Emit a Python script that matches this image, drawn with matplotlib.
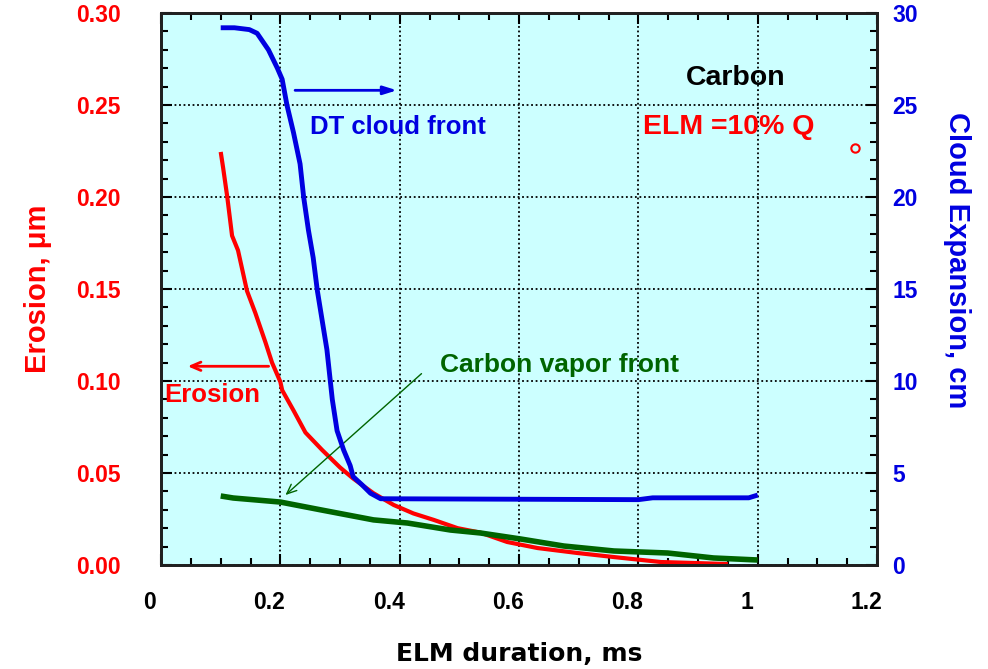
import matplotlib
matplotlib.use('Agg')
import matplotlib.pyplot as plt
import matplotlib.transforms as mtransforms
from matplotlib.ticker import MultipleLocator

# ---- data --------------------------------------------------------------
# erosion (um) vs ELM duration (ms), left axis
erosion_t = [0.10, 0.104, 0.111, 0.119, 0.129, 0.144, 0.158, 0.175, 0.186, 0.200,
             0.203, 0.222, 0.242, 0.270, 0.300, 0.322, 0.356, 0.390, 0.423, 0.457,
             0.497, 0.535, 0.580, 0.631, 0.698, 0.759, 0.838, 0.900, 0.950]
erosion_um = [0.2245, 0.216, 0.200, 0.179, 0.171, 0.149, 0.137, 0.121, 0.110, 0.0995,
              0.095, 0.084, 0.072, 0.0625, 0.053, 0.047, 0.039, 0.0326, 0.028, 0.0245,
              0.020, 0.0176, 0.0125, 0.0092, 0.0065, 0.0043, 0.0016, 0.001, 0.0005]

# DT cloud front position (cm), right axis
cloud_t = [0.10, 0.123, 0.148, 0.161, 0.180, 0.195, 0.203, 0.211, 0.222, 0.233,
           0.239, 0.247, 0.255, 0.262, 0.270, 0.278, 0.284, 0.287, 0.295, 0.306,
           0.317, 0.322, 0.337, 0.351, 0.368, 0.800, 0.824, 0.985, 1.000]
cloud_cm = [29.2, 29.2, 29.1, 28.9, 28.0, 27.0, 26.4, 25.0, 23.5, 21.8,
            20.0, 18.2, 16.7, 14.9, 13.3, 11.7, 9.9, 9.0, 7.3, 6.25,
            5.4, 4.8, 4.35, 3.9, 3.6, 3.55, 3.65, 3.65, 3.8]

# carbon vapor front position (cm), right axis
vapor_t = [0.10, 0.121, 0.200, 0.267, 0.356, 0.413, 0.485, 0.535, 0.603, 0.675,
           0.759, 0.849, 0.926, 1.000]
vapor_cm = [3.75, 3.64, 3.42, 3.0, 2.45, 2.28, 1.9, 1.74, 1.41, 1.03,
            0.76, 0.65, 0.38, 0.27]

x_ticks = [0, 0.2, 0.4, 0.6, 0.8, 1.0, 1.2]
x_labels = ['0', '0.2', '0.4', '0.6', '0.8', '1', '1.2']

RED = '#ff0000'
BLUE = '#0000e0'
GREEN = '#006400'
BG = '#ccffff'

plt.rcParams['font.family'] = ['Liberation Sans', 'DejaVu Sans']
plt.rcParams['font.weight'] = 'bold'
plt.rcParams['axes.labelweight'] = 'bold'

fig = plt.figure(figsize=(9.88, 6.69), dpi=100)
ax = fig.add_axes([0.163, 0.1555, 0.7247, 0.825])
ax2 = ax.twinx()

ax.set_facecolor(BG)
ax.set_xlim(0, 1.2)
ax.set_ylim(0, 0.30)
ax2.set_ylim(0, 30)

# dotted major grid
ax.grid(True, which='major', color='black', linestyle=(0, (1, 1.5)), linewidth=1.3)
ax.set_axisbelow(True)

ax.set_xticks(x_ticks)
ax.set_xticklabels(x_labels)
ax.xaxis.set_minor_locator(MultipleLocator(0.05))
ax.yaxis.set_major_locator(MultipleLocator(0.05))
ax.yaxis.set_minor_locator(MultipleLocator(0.01))
ax.yaxis.set_major_formatter(plt.FormatStrFormatter('%.2f'))
ax2.yaxis.set_major_locator(MultipleLocator(5))
ax2.yaxis.set_minor_locator(MultipleLocator(1))

ax.tick_params(axis='both', which='both', direction='in', top=True, right=False,
               width=1.5, color='black')
ax.tick_params(which='major', length=8)
ax.tick_params(which='minor', length=5)
ax.tick_params(axis='x', labelsize=16.5, pad=19, labelcolor='black')
ax.tick_params(axis='y', labelsize=16.5, pad=29, labelcolor=RED)
ax2.tick_params(axis='y', which='both', direction='in', width=1.5,
                labelsize=16.5, pad=11, labelcolor=BLUE)
ax2.tick_params(which='major', length=8)
ax2.tick_params(which='minor', length=5)

# x tick labels sit a little left of their ticks
shift = mtransforms.ScaledTranslation(-8 / 72, 0, fig.dpi_scale_trans)
for lab in ax.get_xticklabels():
    lab.set_transform(lab.get_transform() + shift)

for a in (ax, ax2):
    for sp in a.spines.values():
        sp.set_linewidth(2)
        sp.set_color('#202020')

# curves
ax.plot(erosion_t, erosion_um, color=RED, linewidth=3, solid_capstyle='butt')
ax2.plot(cloud_t, cloud_cm, color=BLUE, linewidth=3.5, solid_capstyle='butt')
ax2.plot(vapor_t, vapor_cm, color=GREEN, linewidth=4, solid_capstyle='butt')

# labels and arrows
ax.annotate('', xy=(0.40, 0.258), xytext=(0.22, 0.258),
            arrowprops=dict(arrowstyle='-|>,head_length=0.8,head_width=0.25',
                            color=BLUE, lw=2))
ax.text(0.25, 0.238, 'DT cloud front', color=BLUE, fontsize=18.5,
        va='center', ha='left')

ax.annotate('', xy=(0.04, 0.108), xytext=(0.185, 0.108),
            arrowprops=dict(arrowstyle='->,head_length=0.7,head_width=0.3',
                            color=RED, lw=2))
ax.text(0.006, 0.0924, 'Erosion', color=RED, fontsize=18.5,
        va='center', ha='left')

ax.annotate('', xy=(0.205, 0.037), xytext=(0.44, 0.105),
            arrowprops=dict(arrowstyle='->,head_length=0.7,head_width=0.3',
                            color=GREEN, lw=1))
ax.text(0.468, 0.1087, 'Carbon vapor front', color=GREEN, fontsize=19,
        va='center', ha='left')

ax.text(0.963, 0.2647, 'Carbon', color='black', fontsize=20.5,
        va='center', ha='center')
ax.text(0.807, 0.238, 'ELM =10% Q', color=RED, fontsize=20.5,
        va='center', ha='left')
ax.plot([1.163], [0.2266], marker='o', markersize=6, markerfacecolor='none',
        markeredgecolor=RED, markeredgewidth=1.5, clip_on=False)

ax.set_xlabel('ELM duration, ms', fontsize=18, fontweight='bold', labelpad=20,
              family=['DejaVu Sans'])
ax.set_ylabel('Erosion, \u03bcm', fontsize=21, fontweight='bold', color=RED,
              labelpad=17)
ax2.set_ylabel('Cloud Expansion, cm', fontsize=21, fontweight='bold', color=BLUE,
               rotation=270, labelpad=38)
ax2.yaxis.label.set_y(0.553)

fig.savefig('out.png', dpi=100, facecolor='white')
